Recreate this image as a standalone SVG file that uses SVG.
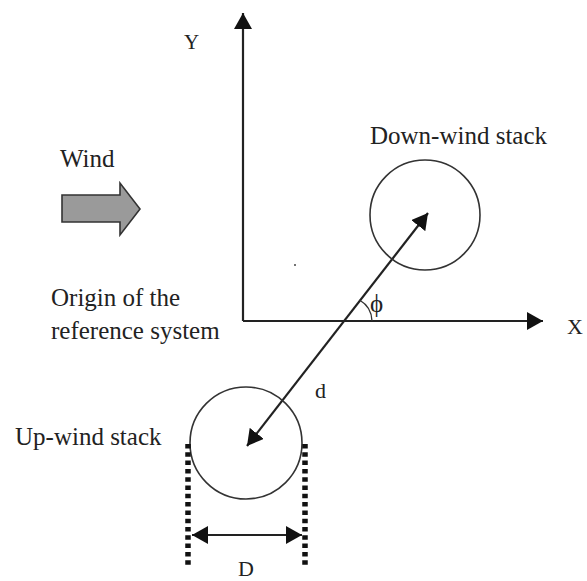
<svg xmlns="http://www.w3.org/2000/svg" width="587" height="581" viewBox="0 0 587 581">
<style>
text{font-family:"Liberation Serif","Times New Roman",serif;fill:#222}
.lbl{font-size:25px}
.ax{stroke:#222;stroke-width:2.2;fill:none}
.circ{stroke:#333;stroke-width:1.6;fill:none}
.dot{stroke:#111;stroke-width:5.5;stroke-dasharray:4.5 3.8;fill:none}
</style>
<defs>
<marker id="big" viewBox="0 0 16 18" refX="16" refY="9" markerWidth="16" markerHeight="18" markerUnits="userSpaceOnUse" orient="auto-start-reverse">
<path d="M0,0 L16,9 L0,18 z" fill="#111"/>
</marker>
</defs>
<rect width="587" height="581" fill="#fff"/>
<g id="connectors">
<line class="ax" x1="243" y1="321" x2="243" y2="13" marker-end="url(#big)"/>
<line class="ax" x1="243" y1="321" x2="543" y2="321" marker-end="url(#big)"/>
<line class="ax" x1="247" y1="446" x2="428" y2="213" marker-start="url(#big)" marker-end="url(#big)"/>
<path d="M372,321 A25,25 0 0 0 359.5,300" fill="none" stroke="#333" stroke-width="1.4"/>
<line class="ax" x1="192" y1="535" x2="302" y2="535" marker-start="url(#big)" marker-end="url(#big)"/>
</g>
<g id="axis-labels">
<text x="184" y="49" style="font-size:21px">Y</text>
<text x="567" y="334" style="font-size:22px">X</text>
<text x="370" y="312" style="font-size:25px">ϕ</text>
<text x="315" y="398" style="font-size:22px">d</text>
</g>
<g id="wind">
<path d="M62,195 L120,195 L120,183 L140,209 L120,235 L120,222 L62,222 Z" fill="#9a9a9a" stroke="#333" stroke-width="1.6" stroke-linejoin="miter"/>
<text class="lbl" x="60" y="167">Wind</text>
</g>
<g id="downwind-stack">
<circle class="circ" cx="425" cy="215" r="55"/>
<text class="lbl" x="370" y="144">Down-wind stack</text>
</g>
<g id="origin">
<text class="lbl" x="51" y="306">Origin of the</text>
<text class="lbl" x="51" y="339">reference system</text>
<circle cx="295" cy="265" r="1" fill="#444"/>
</g>
<g id="upwind-stack">
<circle class="circ" cx="246" cy="443" r="56"/>
<text class="lbl" x="15" y="445">Up-wind stack</text>
<line class="dot" x1="188" y1="444" x2="188" y2="568"/>
<line class="dot" x1="305" y1="444" x2="305" y2="568"/>
<text x="238" y="576" style="font-size:22px">D</text>
</g>
</svg>
